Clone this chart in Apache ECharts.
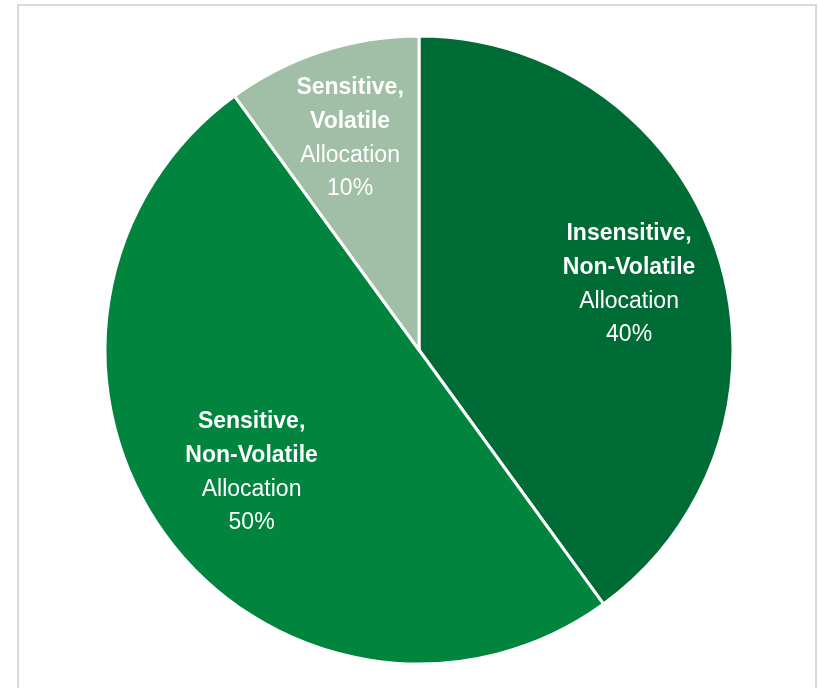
<!DOCTYPE html>
<html>
<head>
<meta charset="utf-8">
<script src="https://cdn.jsdelivr.net/npm/echarts@6/dist/echarts.min.js"></script>
<style>
  html, body { margin: 0; padding: 0; background: #fff; }
  #chart { width: 819px; height: 688px; }
</style>
</head>
<body>
<div id="chart"></div>
<script>
var categories = ['Insensitive,\nNon-Volatile', 'Sensitive,\nNon-Volatile', 'Sensitive,\nVolatile'];
var shares = [40, 50, 10];
var sliceColors = ['#006c35', '#00843e', '#a1bea6'];

var chart = echarts.init(document.getElementById('chart'));

var FONT = "'Liberation Sans', Arial, sans-serif";

var pieData = categories.map(function (name, i) {
    return { name: name, value: shares[i], itemStyle: { color: sliceColors[i] } };
});

// small nudges so the labels sit where they do in the original
var labelNudge = [[-2, 3], [13, -9], [0, 0]];

var labelData = categories.map(function (name, i) {
    return { name: name, value: shares[i], label: { offset: labelNudge[i] } };
});

var option = {
    animation: false,
    graphic: [{
        type: 'rect',
        shape: { x: 18, y: 5, width: 798, height: 700 },
        style: { fill: 'none', stroke: '#d9d9d9', lineWidth: 2 },
        silent: true
    }],
    series: [
        {
            type: 'pie',
            center: [419, 350],
            radius: 314,
            startAngle: 90,
            clockwise: true,
            data: pieData,
            label: { show: false },
            labelLine: { show: false },
            itemStyle: { borderColor: '#ffffff', borderWidth: 3 },
            emphasis: { disabled: true },
            silent: true
        },
        {
            // transparent ring used only to place the labels further out
            type: 'pie',
            center: [419, 350],
            radius: [126, 314],
            startAngle: 90,
            clockwise: true,
            data: labelData,
            itemStyle: { color: 'transparent' },
            label: {
                show: true,
                position: 'inside',
                formatter: function (p) {
                    return '{b|' + p.name.split('\n').join('}\n{b|') + '}\n{r|Allocation}\n{r|' + p.value + '%}';
                },
                rich: {
                    b: { fontFamily: FONT, fontSize: 23, fontWeight: 'bold', color: '#fff', lineHeight: 34 },
                    r: { fontFamily: FONT, fontSize: 23, color: '#fff', lineHeight: 33 }
                }
            },
            labelLine: { show: false },
            emphasis: { disabled: true },
            silent: true
        }
    ]
};

chart.setOption(option);
</script>
</body>
</html>
